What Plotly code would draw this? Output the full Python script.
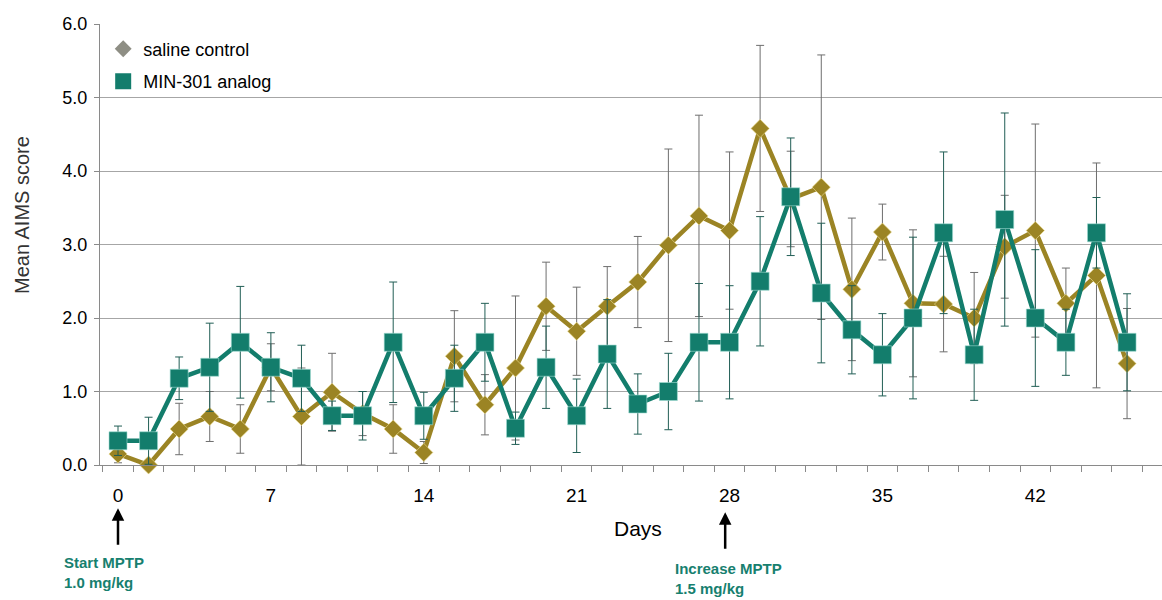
import plotly.graph_objects as go

# ---- data ----
days = [round(i * 1.4, 1) for i in range(34)]
min301 = [0.33, 0.33, 1.18, 1.33, 1.67, 1.33, 1.18, 0.67, 0.67, 1.67,
          0.67, 1.18, 1.67, 0.50, 1.33, 0.67, 1.51, 0.83, 1.00, 1.67,
          1.67, 2.50, 3.65, 2.34, 1.84, 1.50, 2.00, 3.16, 1.50, 3.34,
          2.00, 1.67, 3.16, 1.67]
min301_err = [0.20, 0.32, 0.29, 0.60, 0.76, 0.47, 0.45, 0.20, 0.33, 0.82,
              0.32, 0.45, 0.53, 0.22, 0.56, 0.50, 0.74, 0.41, 0.52, 0.80,
              0.77, 0.88, 0.80, 0.95, 0.60, 0.56, 1.10, 1.10, 0.62, 1.45,
              0.93, 0.45, 0.48, 0.66]
saline = [0.15, 0.00, 0.49, 0.66, 0.49, 1.33, 0.66, 0.99, 0.70, 0.49,
          0.17, 1.48, 0.82, 1.32, 2.16, 1.82, 2.16, 2.49, 2.99, 3.39,
          3.19, 4.58, 3.62, 3.78, 2.39, 3.17, 2.20, 2.19, 2.00, 2.97,
          3.19, 2.20, 2.58, 1.38]
saline_err = [0.12, 0.00, 0.35, 0.34, 0.33, 0.32, 0.66, 0.53, 0.30, 0.33,
              0.15, 0.62, 0.41, 0.98, 0.60, 0.60, 0.54, 0.62, 1.31, 1.37,
              1.07, 1.13, 0.65, 1.80, 0.97, 0.38, 1.00, 0.65, 0.62, 0.70,
              1.45, 0.48, 1.53, 0.75]
x_tick_vals = [0, 7, 14, 21, 28, 35, 42]
x_tick_text = ["0", "7", "14", "21", "28", "35", "42"]
y_tick_vals = [0, 1, 2, 3, 4, 5, 6]
y_tick_text = ["0.0", "1.0", "2.0", "3.0", "4.0", "5.0", "6.0"]

SALINE = "#9b8424"
TEAL = "#137d6c"
FONT = "Liberation Sans, Arial, sans-serif"
GREEN_TXT = "#17806f"

fig = go.Figure()

fig.add_trace(go.Scatter(
    x=days, y=saline, mode="lines+markers", showlegend=False,
    line=dict(color=SALINE, width=4.5),
    marker=dict(symbol="diamond", size=14, color=SALINE,
                line=dict(color="rgba(240,225,150,0.6)", width=1)),
    error_y=dict(type="data", array=saline_err, color="#6e6e6e",
                 thickness=1, width=4),
    cliponaxis=False,
))
fig.add_trace(go.Scatter(
    x=days, y=min301, mode="lines+markers", showlegend=False,
    line=dict(color=TEAL, width=4.5),
    marker=dict(symbol="square", size=18, color=TEAL,
                line=dict(color="rgba(160,220,210,0.6)", width=1)),
    error_y=dict(type="data", array=min301_err, color="#215e55",
                 thickness=1, width=4),
    cliponaxis=False,
))
# legend entries
fig.add_trace(go.Scatter(
    x=[None], y=[None], mode="markers", name="saline control",
    legendgroup="a",
    marker=dict(symbol="diamond", size=13, color="#8e8e84"),
))
fig.add_trace(go.Scatter(
    x=[None], y=[None], mode="markers", name="MIN-301 analog",
    legendgroup="b",
    marker=dict(symbol="square", size=17, color=TEAL),
))

fig.update_layout(
    width=1162, height=600,
    margin=dict(l=100, r=0, t=24, b=135),
    paper_bgcolor="white", plot_bgcolor="white",
    font=dict(family=FONT, size=18, color="black"),
    legend=dict(x=0.003, y=0.985, xanchor="left", yanchor="top",
                bgcolor="rgba(0,0,0,0)", font=dict(size=18, color="black"),
                tracegroupgap=6, traceorder="grouped"),
    xaxis=dict(
        range=[-0.824, 47.8], showgrid=False, zeroline=False,
        showline=True, linecolor="#8a8a8a", linewidth=1,
        tickmode="array", tickvals=x_tick_vals, ticktext=x_tick_text,
        ticks="", ticklabelstandoff=13,
        tickfont=dict(size=19, color="black"),
        minor=dict(ticks="outside", tickmode="linear", tick0=-0.7, dtick=1.4,
                   ticklen=6, tickcolor="#8a8a8a", tickwidth=1, showgrid=False),
    ),
    yaxis=dict(
        range=[0, 6.001], showgrid=True, gridcolor="#a6a6a6", gridwidth=1,
        zeroline=False, showline=True, linecolor="#8a8a8a", linewidth=1,
        tickmode="array", tickvals=y_tick_vals, ticktext=y_tick_text,
        ticks="outside", ticklen=5, tickcolor="#8a8a8a",
        ticklabelstandoff=3,
        tickfont=dict(size=18, color="black"),
    ),
)

# axis titles
fig.add_annotation(text="Days", xref="paper", yref="paper", x=0.507, y=-0.143,
                   showarrow=False, font=dict(size=21, color="black"),
                   xanchor="center", yanchor="middle")
fig.add_annotation(text="Mean AIMS score", xref="paper", yref="paper",
                   x=-0.0734, y=0.567, textangle=-90, showarrow=False,
                   font=dict(size=20, color="#333333"),
                   xanchor="center", yanchor="middle")

# arrows
for xd, ytip in [(0, -0.098), (27.8, -0.107)]:
    fig.add_annotation(text="", xref="x", yref="paper", x=xd, y=ytip,
                       ax=0, ay=38, showarrow=True, arrowhead=2,
                       arrowsize=1, arrowwidth=2.5, arrowcolor="black",
                       standoff=0)

fig.add_annotation(text="<b>Start MPTP<br>1.0 mg/kg</b>", xref="paper",
                   yref="paper", x=-0.0358, y=-0.198, xanchor="left",
                   yanchor="top", align="left", showarrow=False,
                   font=dict(size=15, color=GREEN_TXT))
fig.add_annotation(text="<b>Increase MPTP<br>1.5 mg/kg</b>", xref="x",
                   yref="paper", x=25.4, y=-0.21, xanchor="left",
                   yanchor="top", align="left", showarrow=False,
                   font=dict(size=15, color=GREEN_TXT))

fig.write_html("out.html")
